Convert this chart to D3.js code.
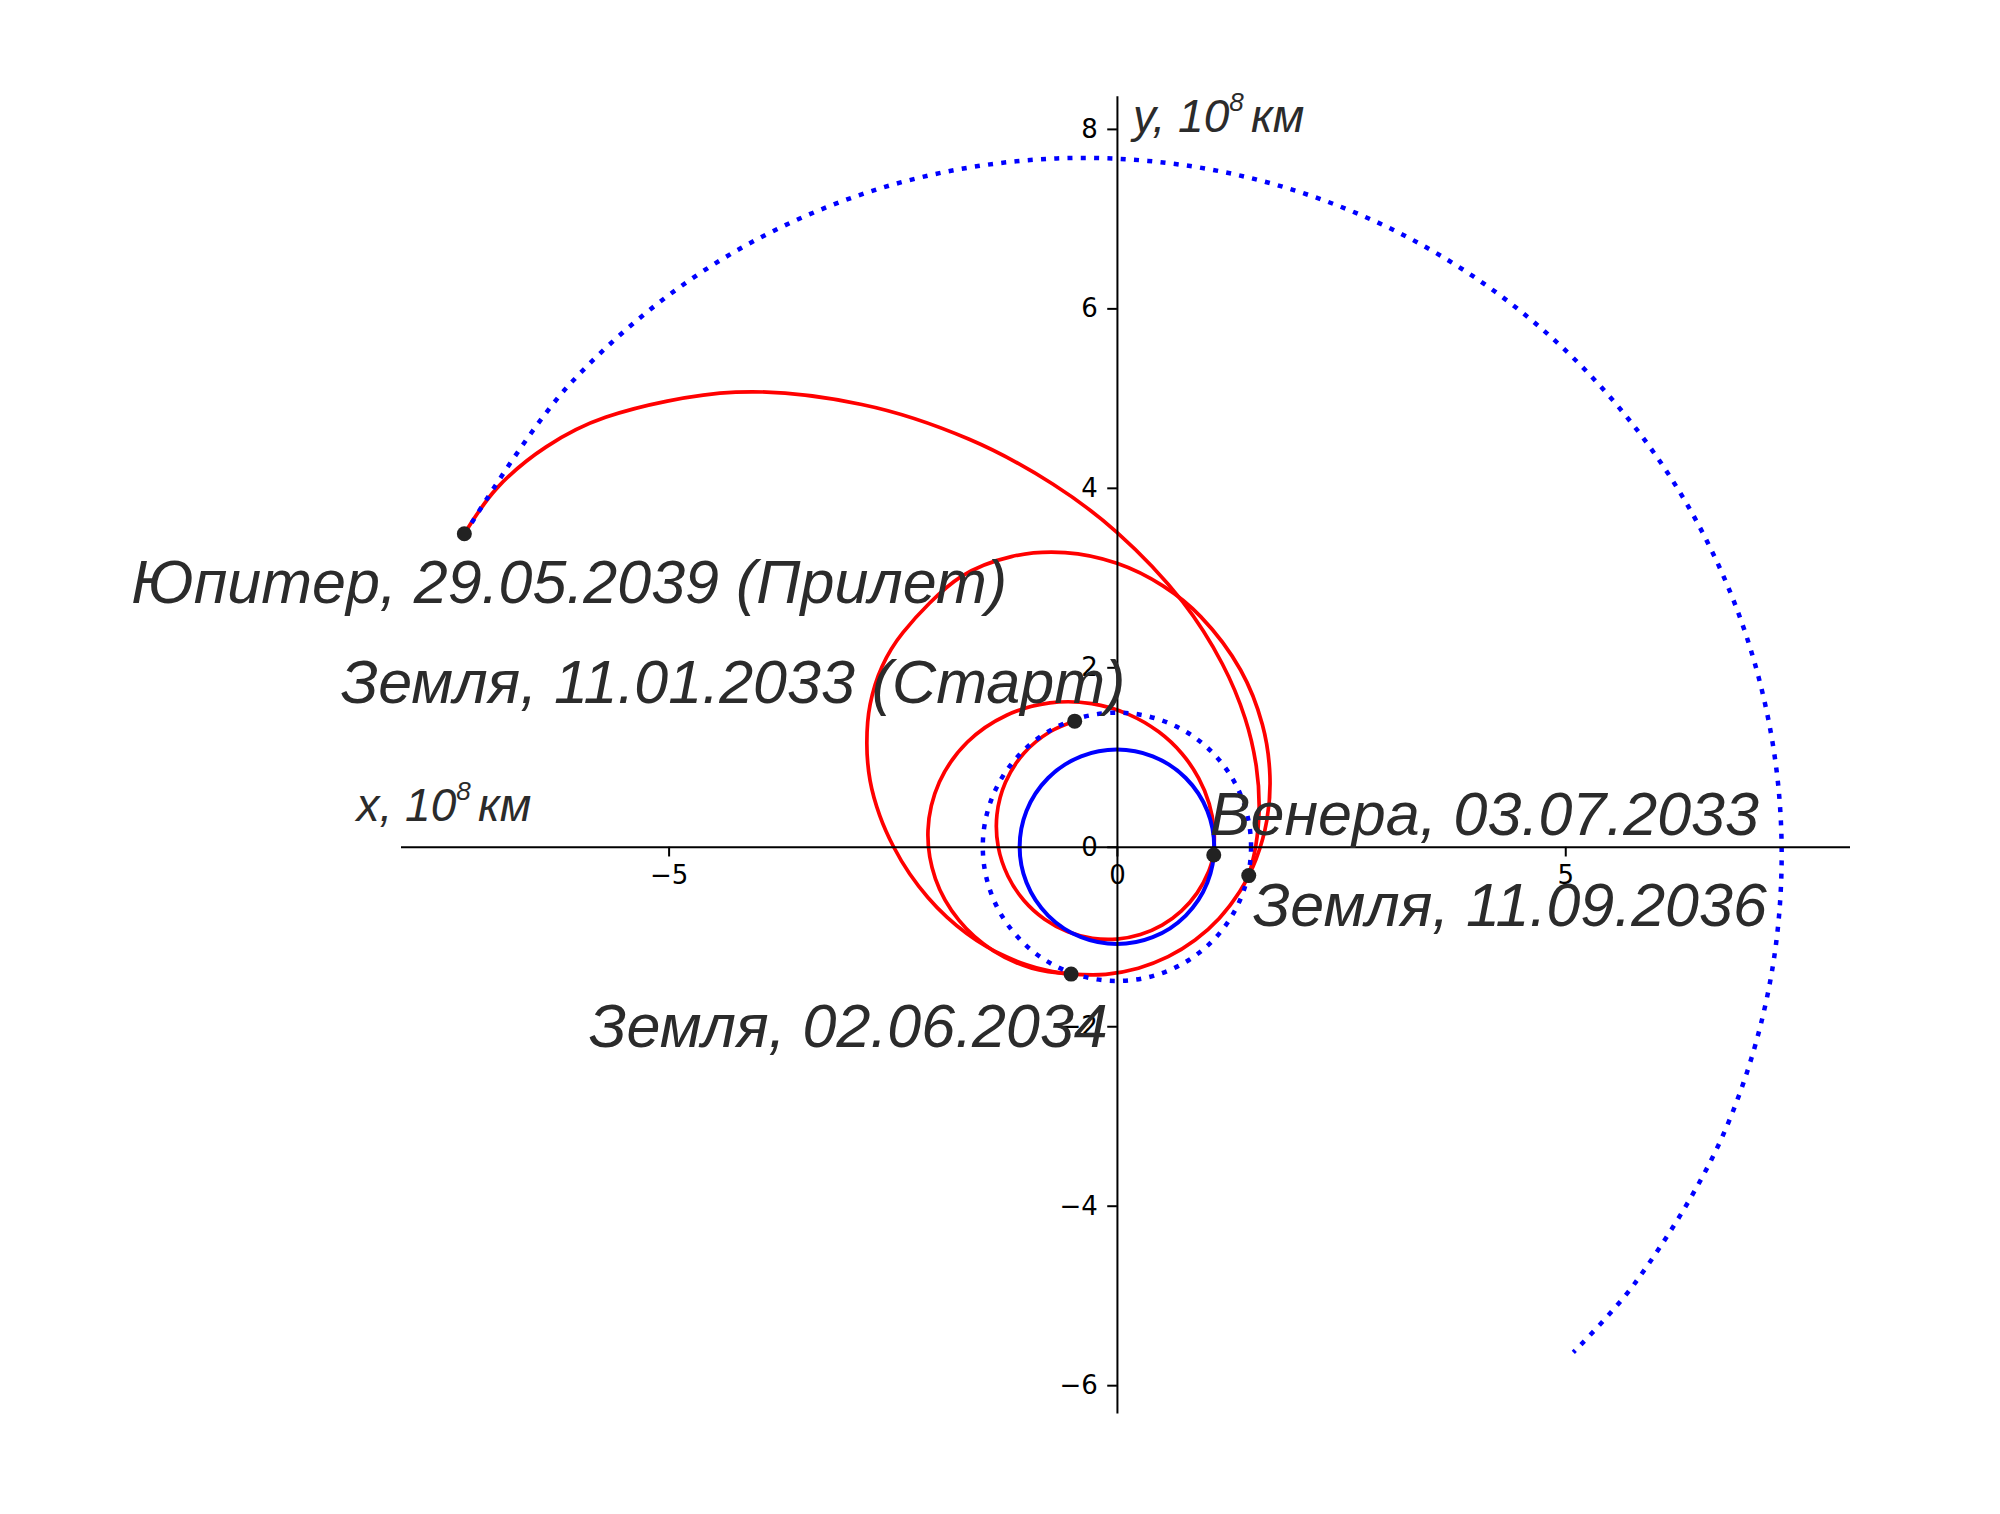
<!DOCTYPE html>
<html><head><meta charset="utf-8">
<script src="https://cdn.jsdelivr.net/npm/d3@7"></script>
<style>body{margin:0;background:#fff} svg{display:block}</style>
</head><body>
<svg id="chart" width="2000" height="1514"></svg>
<script>
// ---------- data (units: 10^8 km) ----------
const xTicks = [-5, 0, 5];
const yTicks = [-6, -4, -2, 0, 2, 4, 6, 8];

const orbitNames = ["Венера", "Земля"];
const orbitRadii = [1.085, 1.496];

// Jupiter path (dotted), from arrival back to its position at launch
const jupiterX = [-7.273, -6.120, -4.530, -2.667, -0.671, 1.321, 3.182, 4.799, 6.081, 6.957, 7.379, 7.321, 6.782, 5.784, 5.090];
const jupiterY = [3.485, 5.135, 6.470, 7.329, 7.671, 7.492, 6.824, 5.719, 4.258, 2.532, 0.646, -1.291, -3.162, -4.854, -5.634];

// Spacecraft legs
const leg1X = [-0.471, -0.742, -1.040, -1.243, -1.338, -1.324, -1.216, -1.037, -0.807, -0.547, -0.273, 0.000, 0.262, 0.504, 0.717, 0.893, 1.023, 1.080];
const leg1Y = [1.400, 1.285, 1.040, 0.718, 0.358, 0.000, -0.326, -0.599, -0.807, -0.947, -1.020, -1.029, -0.978, -0.873, -0.717, -0.516, -0.274, -0.091];

const leg2X = [1.080, 1.083, 1.029, 0.911, 0.726, 0.466, 0.129, -0.281, -0.748, -1.230, -1.667, -1.980, -2.107, -2.024, -1.761, -1.380, -0.948, -0.511];
const leg2Y = [-0.091, 0.191, 0.480, 0.765, 1.037, 1.281, 1.476, 1.596, 1.603, 1.466, 1.167, 0.721, 0.184, -0.357, -0.821, -1.158, -1.353, -1.419];

const leg3X = [-0.511, -0.124, 0.239, 0.571, 0.872, 1.140, 1.370, 1.552, 1.672, 1.706, 1.622, 1.379, 0.934, 0.513, 0.000, -0.578, -1.177, -1.738, -2.387, -2.619, -2.752, -2.789, -2.753, -2.645, -2.491, -2.310, -2.108, -1.896, -1.675, -1.452, -1.228, -1.009, -0.794, -0.511, -0.124, 0.239, 0.571, 0.872, 1.140, 1.370, 1.470];
const leg3Y = [-1.419, -1.421, -1.353, -1.225, -1.040, -0.799, -0.499, -0.136, 0.295, 0.796, 1.362, 1.970, 2.565, 2.907, 3.159, 3.278, 3.234, 3.010, 2.387, 2.010, 1.589, 1.155, 0.738, 0.348, 0.000, -0.304, -0.565, -0.785, -0.967, -1.114, -1.228, -1.315, -1.375, -1.419, -1.421, -1.353, -1.225, -1.040, -0.799, -0.499, -0.321];

const leg4X = [1.470, 1.547, 1.586, 1.554, 1.430, 1.176, 0.732, 0.000, -0.712, -1.654, -2.846, -4.251, -5.704, -6.365, -6.917, -7.278];
const leg4Y = [-0.321, 0.000, 0.425, 0.897, 1.430, 2.037, 2.731, 3.504, 4.040, 4.544, 4.929, 5.066, 4.786, 4.457, 3.994, 3.488];

const eventNames = ["Земля, 11.01.2033 (Старт)", "Венера, 03.07.2033", "Земля, 02.06.2034", "Земля, 11.09.2036", "Юпитер, 29.05.2039 (Прилет)"];
const eventX = [-0.471, 1.080, -0.511, 1.470, -7.278];
const eventY = [1.400, -0.091, -1.419, -0.321, 3.488];

// ---------- layout ----------
const svg = d3.select("#chart");
const x = d3.scaleLinear().domain([-7.99, 8.17]).range([400.5, 1849.5]);
const y = d3.scaleLinear().domain([-6.31, 8.37]).range([1413, 95.7]);
const labelOffsets = [[-734, -18], [-4, -20], [-482, 73], [4, 50], [-333, 69]];

const zip = (xs, ys) => xs.map((v, i) => [v, ys[i]]);
const line = d3.line().x(d => x(d[0])).y(d => y(d[1])).curve(d3.curveCatmullRom.alpha(0.5));

const red = "#ff0000", blue = "#0000ff";
const dotted = "5 8.3";

// red trajectory
const legs = [zip(leg1X, leg1Y), zip(leg2X, leg2Y), zip(leg3X, leg3Y), zip(leg4X, leg4Y)];
svg.append("g").selectAll("path").data(legs).join("path")
  .attr("d", line).attr("fill", "none").attr("stroke", red)
  .attr("stroke-width", 3.7).attr("stroke-linejoin", "round");

// orbits
const r0 = x(0);
svg.append("g").selectAll("circle").data(orbitRadii).join("circle")
  .attr("cx", x(0)).attr("cy", y(0))
  .attr("r", d => x(d) - r0)
  .attr("fill", "none").attr("stroke", blue)
  .attr("stroke-width", (d, i) => i === 0 ? 4 : 4.5)
  .attr("stroke-dasharray", (d, i) => i === 0 ? null : dotted);

svg.append("path").datum(zip(jupiterX, jupiterY))
  .attr("d", line).attr("fill", "none").attr("stroke", blue)
  .attr("stroke-width", 4.5).attr("stroke-dasharray", dotted);

// axes through the origin
const fmt = d => (d < 0 ? "\u2212" + Math.abs(d) : String(d));
const gx = svg.append("g").attr("transform", `translate(0,${y(0)})`)
  .call(d3.axisBottom(x).tickValues(xTicks).tickFormat(fmt).tickSize(9.7).tickSizeOuter(0).tickPadding(9));
const gy = svg.append("g").attr("transform", `translate(${x(0)},0)`)
  .call(d3.axisLeft(y).tickValues(yTicks).tickFormat(fmt).tickSize(9.7).tickSizeOuter(0).tickPadding(9.5));
[gx, gy].forEach(g => {
  g.attr("font-family", "'DejaVu Sans', sans-serif").attr("font-size", 26);
  g.select(".domain").attr("stroke", "#000").attr("stroke-width", 2);
  g.selectAll(".tick line").attr("stroke", "#000").attr("stroke-width", 2);
  g.selectAll(".tick text").attr("fill", "#000");
});

// axis titles
function axisTitle(tx, ty, letter) {
  const t = svg.append("text").attr("x", tx).attr("y", ty)
    .attr("font-family", "'Liberation Sans', Arial, sans-serif").attr("font-style", "italic")
    .attr("font-size", 46).attr("fill", "#2b2b2b");
  t.append("tspan").text(letter + ", 10");
  t.append("tspan").attr("font-size", 26).attr("dy", -21).text("8 ");
  t.append("tspan").attr("dy", 21).text("км");
}
axisTitle(x(0) + 16, y(8) + 3, "y");
axisTitle(x(-7.99) - 44, y(0) - 26, "x");

// event dots
svg.append("g").selectAll("circle").data(eventX).join("circle")
  .attr("cx", d => x(d)).attr("cy", (d, i) => y(eventY[i]))
  .attr("r", 7.5).attr("fill", "#222");

// event labels
svg.append("g").selectAll("text").data(eventNames).join("text")
  .attr("x", (d, i) => x(eventX[i]) + labelOffsets[i][0])
  .attr("y", (d, i) => y(eventY[i]) + labelOffsets[i][1])
  .attr("font-family", "'Liberation Sans', Arial, sans-serif").attr("font-style", "italic")
  .attr("font-size", 61).attr("fill", "#2b2b2b")
  .text(d => d);
</script>
</body></html>
